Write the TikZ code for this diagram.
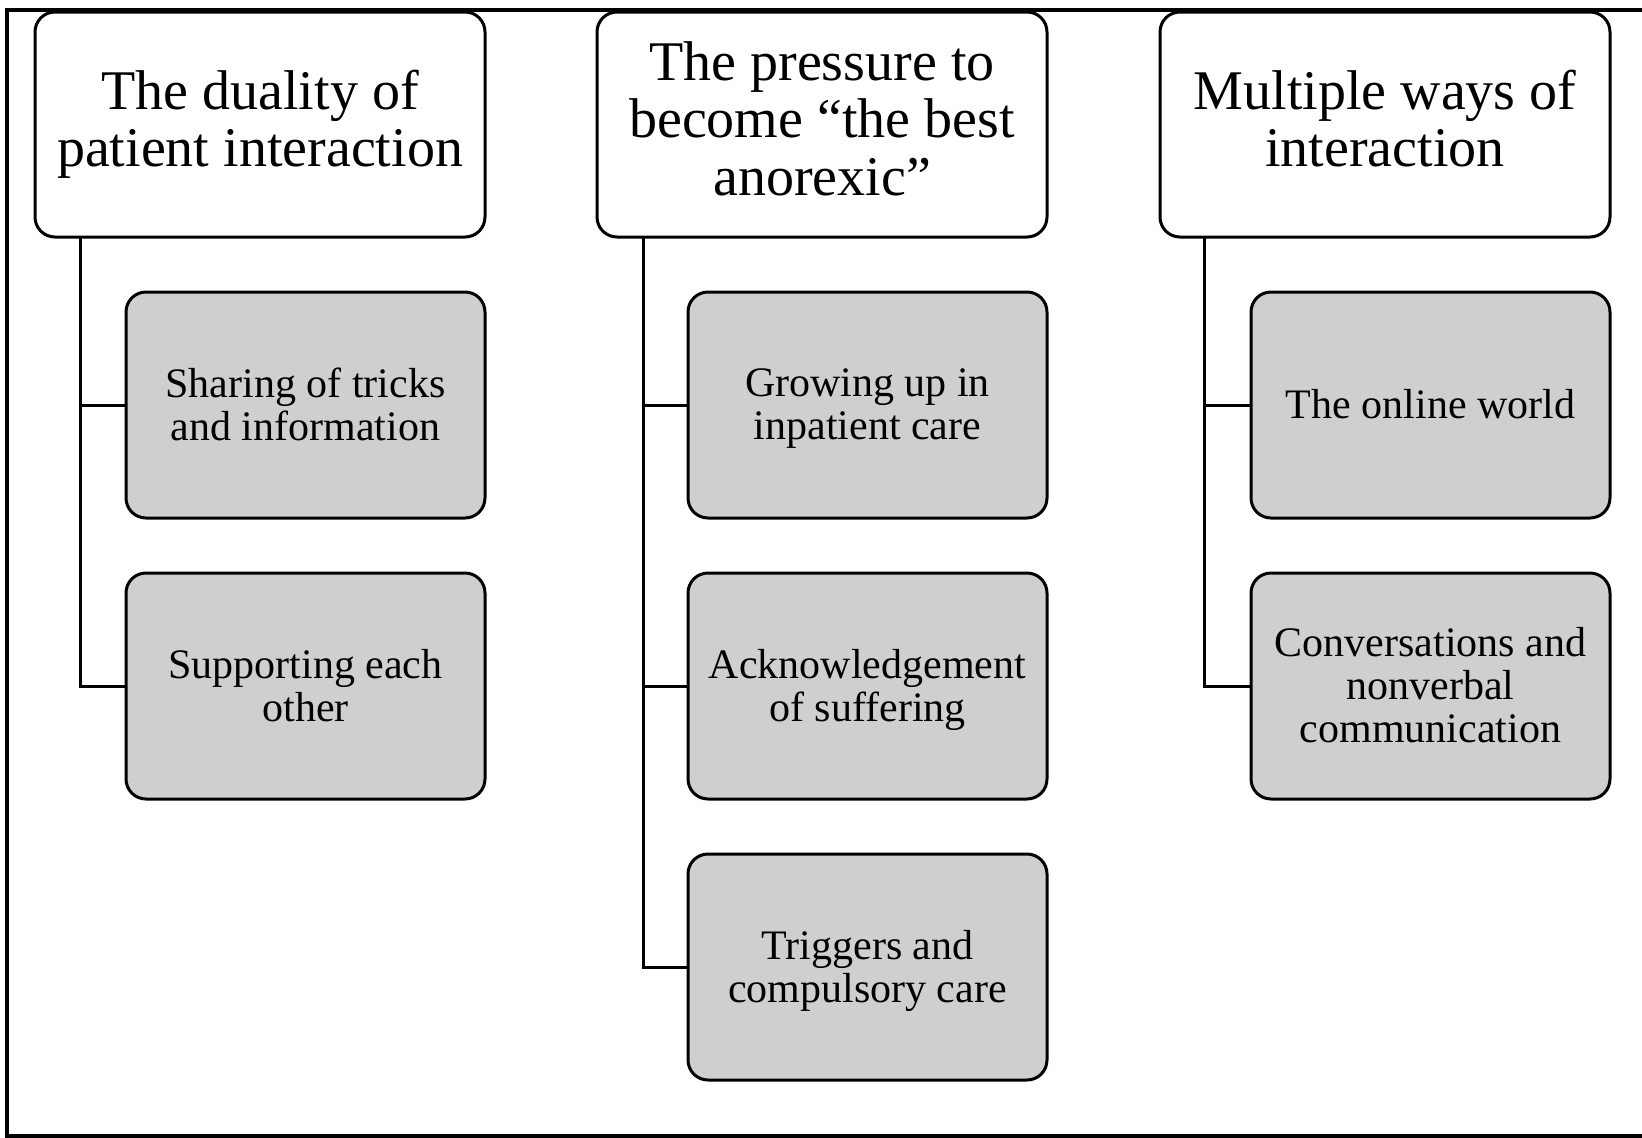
\documentclass[tikz,border=0pt]{standalone}
\usepackage{fontspec}
\setmainfont{Liberation Serif}
\usetikzlibrary{positioning}
\definecolor{subgray}{RGB}{207,207,207}

\begin{document}
\begin{tikzpicture}[
        x=1pt, y=1pt,
        node distance=55pt,
        card/.style={rectangle, rounded corners=20pt, draw, line width=3pt, outer sep=0pt, align=center, inner sep=0pt, minimum height=225pt},
        theme/.style={card, minimum width=450pt, font=\fontsize{56}{57.5}\selectfont, text depth=12pt},
        subtheme/.style={card, fill=subgray, minimum width=359pt, minimum height=226pt, font=\fontsize{42}{43}\selectfont, text depth=2pt},
        link/.style={line width=3pt}
    ]
        \useasboundingbox (0,0) rectangle (1642,-1138);
        \draw[line width=3.5pt] (1650,-10) -- (7,-10) -- (7,-1136) -- (1650,-1136);

        \node[theme, anchor=north west] (duality) at (35,-12) {The duality of\\patient interaction};
        \node[theme, right=112pt of duality] (pressure) {The pressure to\\become “the best\\anorexic”};
        \node[theme, right=113pt of pressure] (ways) {Multiple ways of\\interaction};

        \node[subtheme, below left=55pt and 0pt of duality.south east] (sharing) {Sharing of tricks\\and information};
        \node[subtheme, below=of sharing] (supporting) {Supporting each\\other};

        \node[subtheme, below left=55pt and 0pt of pressure.south east] (growing) {Growing up in\\inpatient care};
        \node[subtheme, below=of growing] (suffering) {Acknowledgement\\of suffering};
        \node[subtheme, below=of suffering] (triggers) {Triggers and\\compulsory care};

        \node[subtheme, below left=55pt and 0pt of ways.south east] (online) {The online world};
        \node[subtheme, below=of online] (conversations) {Conversations and\\nonverbal\\communication};

        \draw[link] ([xshift=45pt]duality.south west) |- (sharing.west);
        \draw[link] ([xshift=45pt]duality.south west) |- (supporting.west);
        \draw[link] ([xshift=46pt]pressure.south west) |- (growing.west);
        \draw[link] ([xshift=46pt]pressure.south west) |- (suffering.west);
        \draw[link] ([xshift=46pt]pressure.south west) |- (triggers.west);
        \draw[link] ([xshift=44pt]ways.south west) |- (online.west);
        \draw[link] ([xshift=44pt]ways.south west) |- (conversations.west);
    \end{tikzpicture}
\end{document}
